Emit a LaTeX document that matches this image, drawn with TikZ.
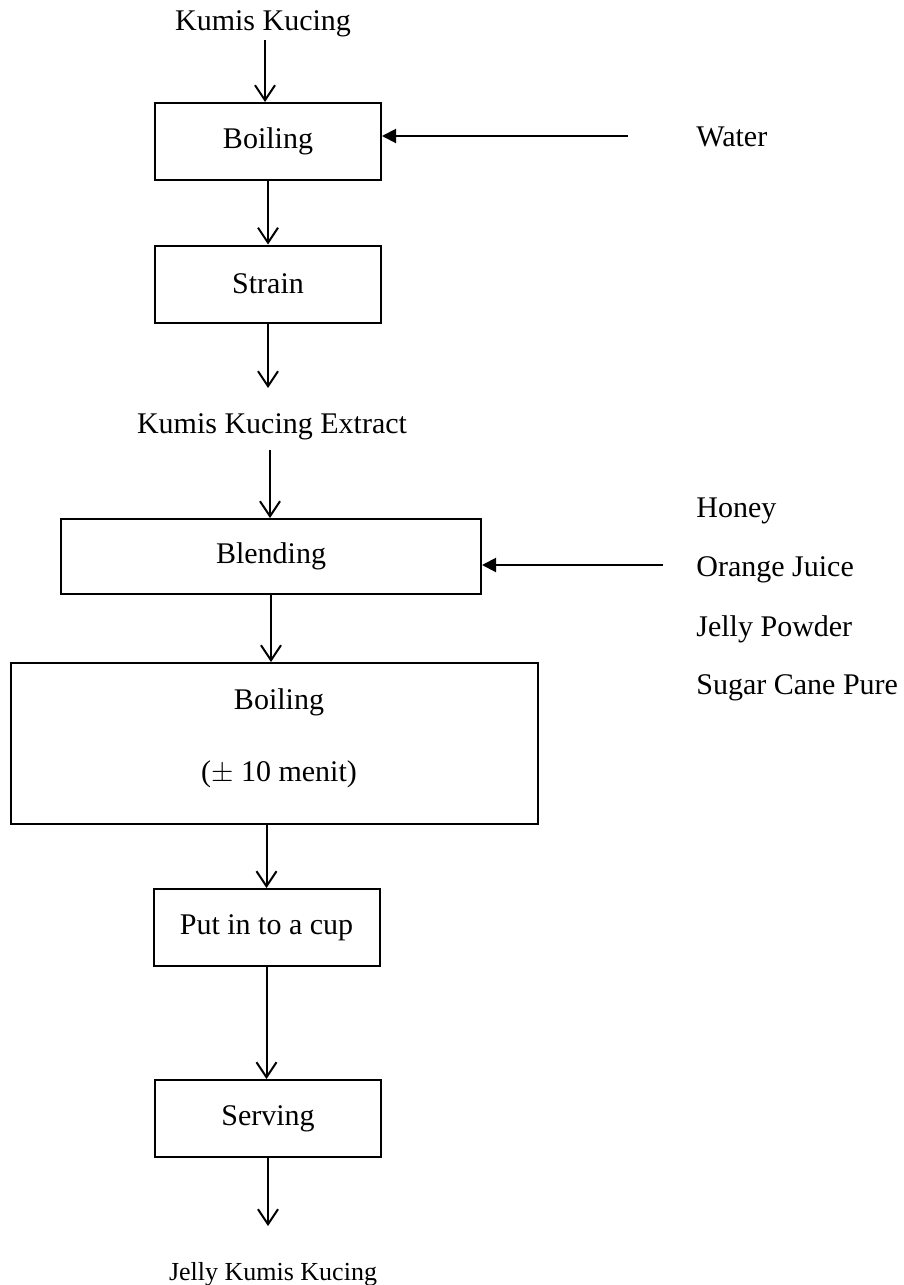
\documentclass[tikz,border=0pt]{standalone}
\usepackage{fontspec}
\setmainfont{Liberation Serif}
\usetikzlibrary{arrows.meta}
\begin{document}
\begin{tikzpicture}[x=0.5pt,y=-0.5pt,
  every node/.style={font=\fontsize{15}{18}\selectfont},
  box/.style={draw,line width=1pt,inner sep=0pt,minimum width=113pt,minimum height=38.5pt},
  lbl/.style={inner sep=0pt},
  varr/.style={line width=1pt,-{Straight Barb[length=7.5pt,width=10pt,line width=1pt]}},
  harr/.style={line width=1pt,-{Triangle[length=7pt,width=7pt]}}]
\useasboundingbox (0,0) rectangle (904,1285);
% nodes
\node[lbl] (k1) at (263,24) {Kumis Kucing};
\node[box] (b1) at (268,141.5) {Boiling};
\node[lbl,anchor=west] (water) at (696,137) {Water};
\coordinate (w) at (628,136);
\node[box] (s) at (268,284) {Strain};
\node[lbl] (ext) at (272,427) {Kumis Kucing Extract};
\node[box,minimum width=210pt,minimum height=37.5pt] (bl) at (271,556.5) {Blending};
\coordinate (h) at (663,565);
\node[lbl,anchor=west] (honey) at (696,511) {Honey};
\node[lbl,anchor=west] (oj) at (696,570) {Orange Juice};
\node[lbl,anchor=west] (jp) at (696,629) {Jelly Powder};
\node[lbl,anchor=west] (sc) at (696,688) {Sugar Cane Pure};
\node[box,minimum width=263.5pt,minimum height=80.5pt] (b2) at (274.5,743.5) {};
\node[lbl] (b2t) at (279,702) {Boiling};
\node[lbl] (b2m) at (279,774) {($\pm$ 10 menit)};
\node[box] (cup) at (266.5,927.5) {\raisebox{-2pt}{Put in to a cup}};
\node[box] (srv) at (268,1118.5) {\raisebox{-2pt}{Serving}};
\node[lbl,font=\fontsize{13}{16}\selectfont] (jk) at (273,1274) {Jelly Kumis Kucing};
\coordinate (a1) at (265,40);
\coordinate (a3) at (270,450);
% connectors
\draw[varr] (a1) -- (a1 |- b1.north);
\draw[harr] (w) -- (w -| b1.east);
\draw[varr] (b1.south) -- (s.north);
\draw[varr] (s.south) -- (268,388) coordinate (a2);
\draw[varr] (a3) -- (a3 |- bl.north);
\draw[harr] (h) -- (h -| bl.east);
\draw[varr] (bl.south) -- (bl.south |- b2.north);
\draw[varr] (b2.south -| cup.north) -- (cup.north);
\draw[varr] (cup.south) -- (cup.south |- srv.north);
\draw[varr] (srv.south) -- ++(0,68) coordinate (a4);
\end{tikzpicture}
\end{document}
